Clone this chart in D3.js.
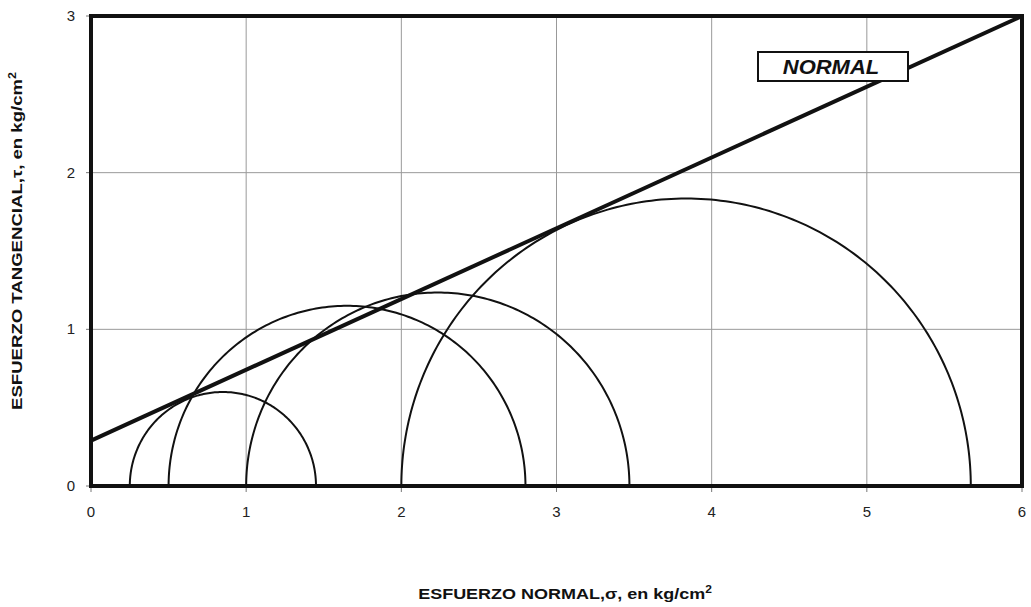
<!DOCTYPE html>
<html><head><meta charset="utf-8">
<script src="https://cdn.jsdelivr.net/npm/d3@7"></script>
<style>body{margin:0;background:#fff}svg{display:block}text{font-family:"Liberation Sans",Arial,sans-serif}</style>
</head><body><svg id="c" width="1031" height="607"></svg>
<script>
const xTicks = [0,1,2,3,4,5,6];
const yTicks = [0,1,2,3];
// Mohr circles: [sigma3, sigma1]
const circleMin = [0.25, 0.5, 1.0, 2.0];
const circleMax = [1.45, 2.8, 3.47, 5.67];
// Envelope line: [sigma, tau]
const envSigma = [0, 6];
const envTau = [0.29, 3.0];
const legendLabel = "NORMAL";

const svg = d3.select("#c");
const x = d3.scaleLinear().domain([0,6]).range([91,1022]);
const y = d3.scaleLinear().domain([0,3]).range([486,16]);

// grid
svg.append("g").selectAll("line").data(xTicks.slice(1,-1)).join("line")
  .attr("x1",d=>x(d)).attr("x2",d=>x(d)).attr("y1",y(3)).attr("y2",y(0))
  .attr("stroke","#999").attr("stroke-width",1);
svg.append("g").selectAll("line").data(yTicks.slice(1,-1)).join("line")
  .attr("x1",x(0)).attr("x2",x(6)).attr("y1",d=>y(d)).attr("y2",d=>y(d))
  .attr("stroke","#999").attr("stroke-width",1);
// small tick marks
svg.append("g").selectAll("line").data(xTicks).join("line")
  .attr("x1",d=>x(d)).attr("x2",d=>x(d)).attr("y1",y(0)).attr("y2",y(0)+6)
  .attr("stroke","#777").attr("stroke-width",1);
svg.append("g").selectAll("line").data(yTicks).join("line")
  .attr("x1",x(0)-5).attr("x2",x(0)).attr("y1",d=>y(d)).attr("y2",d=>y(d))
  .attr("stroke","#777").attr("stroke-width",1);

// semicircles
const line = d3.line().x(d=>x(d[0])).y(d=>y(d[1]));
const angles = d3.range(0,181,1).map(a=>a*Math.PI/180);
circleMin.forEach((a,i)=>{
  const b = circleMax[i], c=(a+b)/2, r=(b-a)/2;
  const pts = angles.map(t=>[c - r*Math.cos(t), r*Math.sin(t)]);
  svg.append("path").attr("d",line(pts)).attr("fill","none")
    .attr("stroke","#111").attr("stroke-width",2);
});

// envelope
svg.append("path").attr("d",line(envSigma.map((s,i)=>[s,envTau[i]])))
  .attr("stroke","#111").attr("stroke-width",4).attr("fill","none");

// frame
svg.append("rect").attr("x",x(0)).attr("y",y(3)).attr("width",x(6)-x(0)).attr("height",y(0)-y(3))
  .attr("fill","none").attr("stroke","#111").attr("stroke-width",4);

// ticks
svg.append("g").selectAll("text").data(xTicks).join("text")
  .attr("x",d=>x(d)).attr("y",y(0)+31).attr("text-anchor","middle")
  .attr("font-size",15).attr("fill","#222").text(d=>d);
svg.append("g").selectAll("text").data(yTicks).join("text")
  .attr("x",x(0)-16).attr("y",d=>y(d)+5).attr("text-anchor","end")
  .attr("font-size",15).attr("fill","#222").text(d=>d);

// legend box
const lg = svg.append("g");
lg.append("rect").attr("x",758).attr("y",52).attr("width",150).attr("height",29)
  .attr("fill","#fff").attr("stroke","#111").attr("stroke-width",2);
lg.append("text").attr("transform","translate(831,74) scale(1.1,1)").attr("text-anchor","middle")
  .attr("font-size",20).attr("font-weight","bold").attr("font-style","italic").attr("fill","#111").text(legendLabel);

// axis titles
const xt = svg.append("text").attr("transform","translate(565,599) scale(1.2,1)").attr("text-anchor","middle")
  .attr("font-size",15).attr("font-weight","bold").attr("fill","#111");
xt.append("tspan").text("ESFUERZO NORMAL,σ, en kg/cm");
xt.append("tspan").attr("dy",-6).attr("font-size",10).text("2");

const yt = svg.append("text").attr("transform","translate(22,241) rotate(-90) scale(1.24,1)").attr("text-anchor","middle")
  .attr("font-size",15).attr("font-weight","bold").attr("fill","#111");
yt.append("tspan").text("ESFUERZO TANGENCIAL,τ, en kg/cm");
yt.append("tspan").attr("dy",-6).attr("font-size",10).text("2");
</script></body></html>
